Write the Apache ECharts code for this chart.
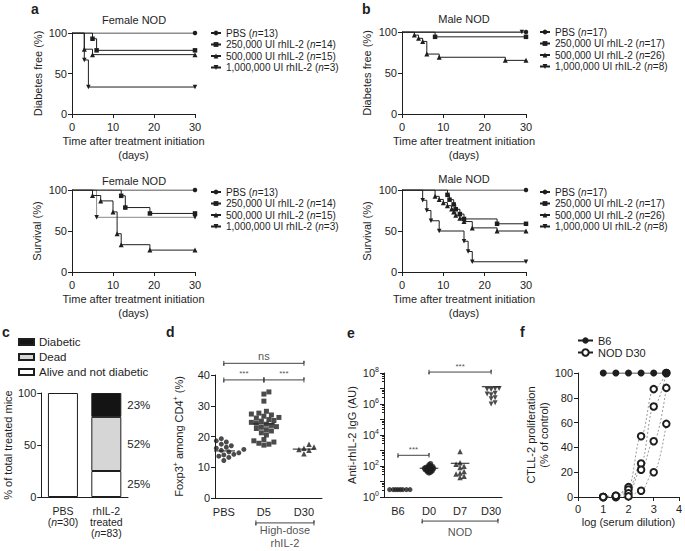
<!DOCTYPE html>
<html>
<head>
<meta charset="utf-8">
<script src="https://cdn.jsdelivr.net/npm/echarts@6/dist/echarts.min.js"></script>
<style>
  html, body { margin: 0; padding: 0; background: #fff; }
  #main { width: 685px; height: 551px; }
</style>
</head>
<body>
<div id="main"></div>
<script>
var FONT = '"Liberation Sans", Arial, Helvetica, sans-serif';
var INK = '#1e1e1e';

// a / b : Kaplan-Meier steps, [day, %]
var kmGroups = ['PBS', '250,000 UI rhIL-2', '500,000 UI rhIL-2', '1,000,000 UI rhIL-2'];
var femaleN = [13, 14, 15, 3];
var maleN = [17, 17, 26, 8];

var femaleDiabFree = [
  [[0, 100], [30, 100]],
  [[0, 100], [5, 92.9], [6, 78.6], [30, 78.6]],
  [[0, 100], [3, 80], [5, 73.3], [30, 73.3]],
  [[0, 100], [3, 66.7], [4, 33.3], [30, 33.3]]
];
var maleDiabFree = [
  [[0, 100], [30, 100]],
  [[0, 100], [8, 94.1], [30, 94.1]],
  [[0, 100], [3, 96.2], [4, 92.3], [5, 88.5], [6, 73.1], [9, 69.2], [25, 65.4], [30, 65.4]],
  [[0, 100], [29, 100]]
];
var femaleSurvival = [
  [[0, 100], [30, 100]],
  [[0, 100], [12, 92.9], [13, 78.6], [19, 71.4], [30, 71.4]],
  [[0, 100], [5, 93.3], [7, 86.7], [10, 73.3], [11, 46.7], [12, 33.3], [19, 26.7], [30, 26.7]],
  [[0, 100], [6, 66.7], [30, 66.7]]
];
var maleSurvival = [
  [[0, 100], [30, 100]],
  [[0, 100], [11, 94.1], [11.5, 88.2], [12.5, 82.4], [13, 76.5], [14, 70.6], [15, 64.7], [23, 58.8], [30, 58.8]],
  [[0, 100], [8, 92.3], [9, 88.5], [10, 84.6], [11, 80.8], [12, 76.9], [12.5, 73.1], [13, 69.2], [14, 65.4], [15, 61.5], [17, 53.8], [23, 50], [30, 50]],
  [[0, 100], [5, 87.5], [6, 75], [7, 62.5], [9, 50], [15, 37.5], [16, 25], [17, 12.5], [30, 12.5]]
];

// c : outcome of treated mice (%)
var cGroups = ['PBS', 'rhIL-2\ntreated'];
var cN = [30, 83];
var cAlive = [100, 25];
var cDead = [0, 52];
var cDiabetic = [0, 23];

// d : Foxp3+ among CD4+ (%)
var dNames = ['PBS', 'D5', 'D30'];
var dPBS = [19.3, 18.6, 18.2, 17.5, 17.0, 16.5, 16.2, 15.8, 15.5, 15.2, 15.0, 14.7, 14.5, 14.2, 14.0, 13.6, 13.2, 12.2];
var dD5 = [34.5, 33.8, 31.5, 28.2, 27.6, 27.3, 27.0, 26.6, 26.2, 26.0, 25.5, 25.2, 25.0, 24.6, 24.3, 24.0, 23.6, 23.2, 23.0, 22.6, 22.2, 21.8, 21.2, 20.5, 19.0, 18.6, 18.2, 17.8, 17.5, 17.2];
var dD30 = [17.5, 16.6, 16.2, 15.8, 15.5, 14.4];
var dMeans = [15.3, 24.1, 15.9];

// e : anti-rhIL-2 IgG (AU)
var eNames = ['B6', 'D0', 'D7', 'D30'];
var eB6 = [3, 3, 3, 3, 3, 3, 3, 3];
var eD0 = [140, 120, 105, 95, 90, 85, 80, 78, 75, 72, 70, 68, 65, 62, 60, 58, 55, 52, 50, 48, 45, 42, 40, 36];
var eD7 = [850, 160, 130, 95, 80, 45, 35, 30, 22, 18];
var eD30 = [1.0e7, 9.5e6, 9e6, 8.5e6, 5e6, 4.5e6, 4e6, 2.5e6, 2.2e6, 1.2e6, 1.0e6];
var eMeans = [72, 150, 1.3e7];

// f : CTLL-2 proliferation (% of control) vs log serum dilution
var fDilution = [1, 1.5, 2, 2.5, 3, 3.5];
var fB6 = [100, 100, 100, 100, 100, 100];
var fNodSera = [
  [0, 0, 8, 49, 87, 100],
  [0, 0, 6, 27, 73, 100],
  [0, 1, 3, 22, 45, 88],
  [0, 1, 0.5, 5, 20, 59]
];

var invTriangle = 'path://M0,0 L10,0 L5,8.7 Z';
var kmSymbols = ['circle', 'rect', 'triangle', invTriangle];

var chart = echarts.init(document.getElementById('main'), null, { renderer: 'svg' });

var grids = [
  { left: 72, top: 33, width: 123, height: 81 },
  { left: 402, top: 32, width: 124, height: 82 },
  { left: 72, top: 190, width: 123, height: 82 },
  { left: 402, top: 190, width: 124, height: 82 },
  { left: 40, top: 393, width: 88, height: 104 },
  { left: 215, top: 375, width: 107, height: 123 },
  { left: 384, top: 373, width: 118, height: 124 },
  { left: 578, top: 373, width: 101, height: 124 }
];

// drop keys left undefined so they don't override echarts defaults
function clean(obj) {
  Object.keys(obj).forEach(function (k) {
    if (obj[k] === undefined) delete obj[k];
    else if (obj[k] && typeof obj[k] === 'object' && !Array.isArray(obj[k])) clean(obj[k]);
  });
  return obj;
}

function axis(gi, o) {
  return clean({
    gridIndex: gi,
    type: o.type || 'value',
    data: o.data,
    min: o.min, max: o.max, interval: o.interval, splitNumber: o.splitNumber,
    name: o.name, nameLocation: 'middle', nameGap: o.gap,
    nameTextStyle: { color: INK, fontFamily: FONT, fontSize: 11, lineHeight: o.nameLH || 13, rich: o.nameRich },
    axisLine: { show: true, onZero: false, lineStyle: { color: INK, width: 1 } },
    axisTick: { show: o.ticks !== false, length: 4, lineStyle: { color: INK, width: 1 } },
    minorTick: o.minorTick,
    axisLabel: {
      color: INK, fontFamily: FONT, fontSize: o.labelSize || 11, margin: o.margin || 5, interval: o.labelInterval,
      formatter: o.fmt, customValues: o.labelValues, rich: o.rich, lineHeight: o.lh
    },
    splitLine: { show: false }
  });
}

var kmX = function (gi) {
  return axis(gi, { min: 0, max: 30, interval: 10, margin: 7, gap: 20, nameLH: 14,
    name: 'Time after treatment initiation\n(days)' });
};
var kmY = function (gi, name, gap) {
  return axis(gi, { min: 0, max: 100, interval: 50, name: name, gap: gap });
};

var xAxes = [
  kmX(0), kmX(1), kmX(2), kmX(3),
  axis(4, { type: 'category', data: cGroups, ticks: false, margin: 8, lh: 11, labelSize: 10.5, labelInterval: 0,
    fmt: function (v, i) { return v + '\n({i|n}=' + cN[i] + ')'; },
    rich: { i: { fontStyle: 'italic', fontFamily: FONT, fontSize: 10.5, color: INK, lineHeight: 11 } } }),
  axis(5, { min: 0.78, max: 3.45, ticks: false, margin: 8, labelValues: [1, 2, 3],
    fmt: function (v) { return dNames[Math.round(v) - 1]; } }),
  axis(6, { min: 0.55, max: 4.35, ticks: false, margin: 8, labelValues: [1, 2, 3, 4],
    fmt: function (v) { return eNames[Math.round(v) - 1]; } }),
  axis(7, { min: 0, max: 4, interval: 1, margin: 6, gap: 18, name: 'log (serum dilution)' })
];

var yAxes = [
  kmY(0, 'Diabetes free (%)', 28),
  kmY(1, 'Diabetes free (%)', 29),
  kmY(2, 'Survival (%)', 29),
  kmY(3, 'Survival (%)', 29),
  axis(4, { min: 0, max: 100, interval: 50, name: '% of total treated mice', gap: 25 }),
  axis(5, { min: 0, max: 40, interval: 10, gap: 30, name: 'Foxp3{s|+} among CD4{s|+} (%)',
    nameRich: { s: { fontSize: 7, verticalAlign: 'top', fontFamily: FONT, color: INK, lineHeight: 9 } } }),
  axis(6, { type: 'log', min: 1, max: 1e8, splitNumber: 8, gap: 22, name: 'Anti-rhIL-2 IgG (AU)',
    minorTick: { show: true, splitNumber: 5, length: 2, lineStyle: { color: INK } },
    fmt: function (v) {
      var e = Math.round(Math.log(v) / Math.LN10);
      return e % 2 === 0 ? '{b|10}{s|' + e + '}' : '';
    },
    rich: { b: { fontSize: 11, fontFamily: FONT, color: INK, lineHeight: 14 },
      s: { fontSize: 7, fontFamily: FONT, color: INK, verticalAlign: 'top', lineHeight: 14 } } }),
  axis(7, { min: 0, max: 100, interval: 20, gap: 22, nameLH: 13, name: 'CTLL-2 proliferation\n(% of control)' })
];

var series = [];

function kmSeries(gi, curves, nList, faint) {
  curves.forEach(function (pts, k) {
    series.push({
      type: 'line', name: kmGroups[k] + ' (n=' + nList[k] + ')',
      xAxisIndex: gi, yAxisIndex: gi, step: 'end',
      symbol: kmSymbols[k], symbolSize: k === 2 ? 5 : 4.5,
      data: pts.map(function (p, i) { return i === 0 ? { value: p, symbol: 'none' } : p; }),
      lineStyle: { color: faint === k ? '#8a8a8a' : INK, width: 1 },
      itemStyle: { color: INK },
      z: 4 - k, animation: false
    });
  });
}
kmSeries(0, femaleDiabFree, femaleN);
kmSeries(1, maleDiabFree, maleN);
kmSeries(2, femaleSurvival, femaleN, 3);
kmSeries(3, maleSurvival, maleN);

// c : stacked outcome bars
[['Alive and not diabetic', cAlive, '#ffffff'], ['Dead', cDead, '#d6d6d6'], ['Diabetic', cDiabetic, '#141414']]
  .forEach(function (s) {
    series.push({
      type: 'bar', name: s[0], xAxisIndex: 4, yAxisIndex: 4, stack: 'c', barWidth: 30,
      data: s[1].map(function (v, i) {
        var item = { value: v, label: { show: i === 1 } };
        if (!v) item.itemStyle = { borderWidth: 0 };
        return item;
      }),
      itemStyle: { color: s[2], borderColor: INK, borderWidth: 1 },
      label: { position: 'right', distance: 6, formatter: '{c}%', color: INK, fontFamily: FONT, fontSize: 11.5 },
      animation: false
    });
  });

// simple deterministic beeswarm: spread equal-ish values sideways
function swarm(vals, cx, pxPerX, toPx, sep) {
  var placed = [], out = [];
  vals.slice().sort(function (a, b) { return a - b; }).forEach(function (v) {
    var py = toPx(v);
    for (var k = 0; k < 60; k++) {
      var off = (k % 2 ? 1 : -1) * Math.ceil(k / 2) * sep * 0.5;
      var ok = placed.every(function (p) {
        var dx = p.x - off, dy = p.y - py;
        return dx * dx + dy * dy >= sep * sep;
      });
      if (ok) { placed.push({ x: off, y: py }); out.push([cx + off / pxPerX, v]); break; }
    }
  });
  return out;
}

function dots(gi, pts, symbol, size) {
  series.push({
    type: 'scatter', xAxisIndex: gi, yAxisIndex: gi, data: pts, symbol: symbol, symbolSize: size,
    itemStyle: { color: INK }, animation: false, z: 3
  });
}
function meanBar(gi, x, v, half) {
  series.push({
    type: 'line', xAxisIndex: gi, yAxisIndex: gi, data: [[x - half, v], [x + half, v]], symbol: 'none',
    lineStyle: { color: INK, width: 1 }, silent: true, animation: false, z: 2
  });
}
function bracket(gi, x1, x2, y, lo, hi, text, pos, fs, dist) {
  series.push({
    type: 'line', xAxisIndex: gi, yAxisIndex: gi, symbol: 'none', clip: false, silent: true,
    data: [[x1, hi], [x1, lo], [x1, y], [x2, y], [x2, hi], [x2, lo]],
    lineStyle: { color: '#444', width: 1 }, animation: false, z: 1
  });
  series.push({
    type: 'scatter', xAxisIndex: gi, yAxisIndex: gi, data: [[(x1 + x2) / 2, y]], symbolSize: 1,
    itemStyle: { color: 'transparent' }, clip: false, silent: true, animation: false,
    label: { show: true, position: pos, distance: dist, formatter: text, color: INK,
      fontFamily: FONT, fontSize: fs, lineHeight: 13 }
  });
}

// d
var dLin = function (v) { return v * 3.075; };
dots(5, swarm(dPBS, 1, 40, dLin, 5), 'circle', 5);
dots(5, swarm(dD5, 2, 40, dLin, 5), 'rect', 5);
dots(5, swarm(dD30, 3, 40, dLin, 5), 'triangle', 5.5);
dMeans.forEach(function (m, i) { meanBar(5, i + 1, m, 0.28); });
bracket(5, 1, 2, 38.4, 37.6, 39.2, '***', 'top', 8, -1);
bracket(5, 2, 3, 38.4, 37.6, 39.2, '***', 'top', 8, -1);
bracket(5, 1, 3, 43.8, 43.0, 44.6, 'ns', 'top', 11, 0);
bracket(5, 1.8, 3.25, -8.1, -8.9, -7.3, 'High-dose\nrhIL-2', 'bottom', 11, 0);

// e
var eLog = function (v) { return Math.log(v) / Math.LN10 * 15.5; };
dots(6, swarm(eB6, 1, 31, eLog, 2.4), 'circle', 5);
dots(6, swarm(eD0, 2, 31, eLog, 1.5), 'circle', 5.5);
dots(6, swarm(eD7, 3, 31, eLog, 4), 'triangle', 5.5);
dots(6, swarm(eD30, 4, 31, eLog, 4), invTriangle, 5);
eMeans.forEach(function (m, i) { meanBar(6, i + 2, m, 0.3); });
bracket(6, 1, 2, 490, 490 / 1.4, 490 * 1.4, '***', 'top', 8, -1);
bracket(6, 2, 4, 1.15e8, 1.15e8 / 1.4, 1.15e8 * 1.4, '***', 'top', 8, -1);
bracket(6, 1.78, 4.22, 0.028, 0.028 / 1.4, 0.028 * 1.4, 'NOD', 'bottom', 11, 4);

// f
fNodSera.forEach(function (vals) {
  series.push({
    type: 'line', name: 'NOD D30', xAxisIndex: 7, yAxisIndex: 7, smooth: 0.4, smoothMonotone: 'x',
    data: fDilution.map(function (x, i) { return [x, vals[i]]; }),
    symbol: 'emptyCircle', symbolSize: 6.5,
    lineStyle: { color: '#8c8c8c', width: 0.9, type: [2, 2] },
    itemStyle: { color: INK, borderWidth: 0.8 }, animation: false, z: 2
  });
});
series.push({
  type: 'line', name: 'B6', xAxisIndex: 7, yAxisIndex: 7,
  data: fDilution.map(function (x, i) { return [x, fB6[i]]; }),
  symbol: 'circle', symbolSize: 7,
  lineStyle: { color: INK, width: 1 }, itemStyle: { color: INK }, animation: false, z: 5
});

function kmLegend(left, top, groups, nList) {
  return {
    orient: 'vertical', left: left, top: top, itemWidth: 10, itemHeight: 6, itemGap: 1.5,
    selectedMode: false, padding: 0,
    data: groups.map(function (g, k) { return g + ' (n=' + nList[k] + ')'; }),
    formatter: function (name) { return name.replace('(n=', '({i|n}='); },
    textStyle: { color: INK, fontFamily: FONT, fontSize: 10, lineHeight: 10,
      rich: { i: { fontStyle: 'italic', fontFamily: FONT, fontSize: 10, color: INK, lineHeight: 10 } } }
  };
}

var legends = [
  kmLegend(210, 28, kmGroups, femaleN),
  kmLegend(210, 187, kmGroups, femaleN),
  kmLegend(539, 27, kmGroups, maleN),
  kmLegend(539, 187, kmGroups, maleN),
  {
    orient: 'vertical', left: 18, top: 336, itemWidth: 15, itemHeight: 6, itemGap: 3, padding: 0,
    selectedMode: false, icon: 'rect',
    data: ['Diabetic', 'Dead', 'Alive and not diabetic'],
    textStyle: { color: INK, fontFamily: FONT, fontSize: 11.5, lineHeight: 12 }
  },
  {
    orient: 'vertical', left: 577, top: 335, itemWidth: 15, itemHeight: 8, itemGap: 1, padding: 0,
    selectedMode: false,
    data: [{ name: 'B6' }, { name: 'NOD D30', lineStyle: { color: INK, type: 'solid' } }],
    textStyle: { color: INK, fontFamily: FONT, fontSize: 11, lineHeight: 11 }
  }
];

function label(text, x, y, font) {
  return {
    type: 'text', x: x, y: y, silent: true,
    style: { text: text, font: font, fill: INK, textAlign: 'left', textVerticalAlign: 'middle',
      align: 'left', verticalAlign: 'middle' }
  };
}
function centred(text, x, y) {
  var t = label(text, x, y, '11px ' + FONT);
  t.style.textAlign = t.style.align = 'center';
  return t;
}
var letterFont = 'bold 14px ' + FONT;

chart.setOption({
  animation: false,
  grid: grids,
  xAxis: xAxes,
  yAxis: yAxes,
  legend: legends,
  series: series,
  graphic: [
    label('a', 31, 9, letterFont), label('b', 362, 9, letterFont),
    label('c', 2, 332, letterFont), label('d', 166, 332, letterFont),
    label('e', 347, 333, letterFont), label('f', 520, 332, letterFont),
    centred('Female NOD', 134, 20), centred('Male NOD', 464, 19),
    centred('Female NOD', 134, 181), centred('Male NOD', 464, 179)
  ]
});
</script>
</body>
</html>
